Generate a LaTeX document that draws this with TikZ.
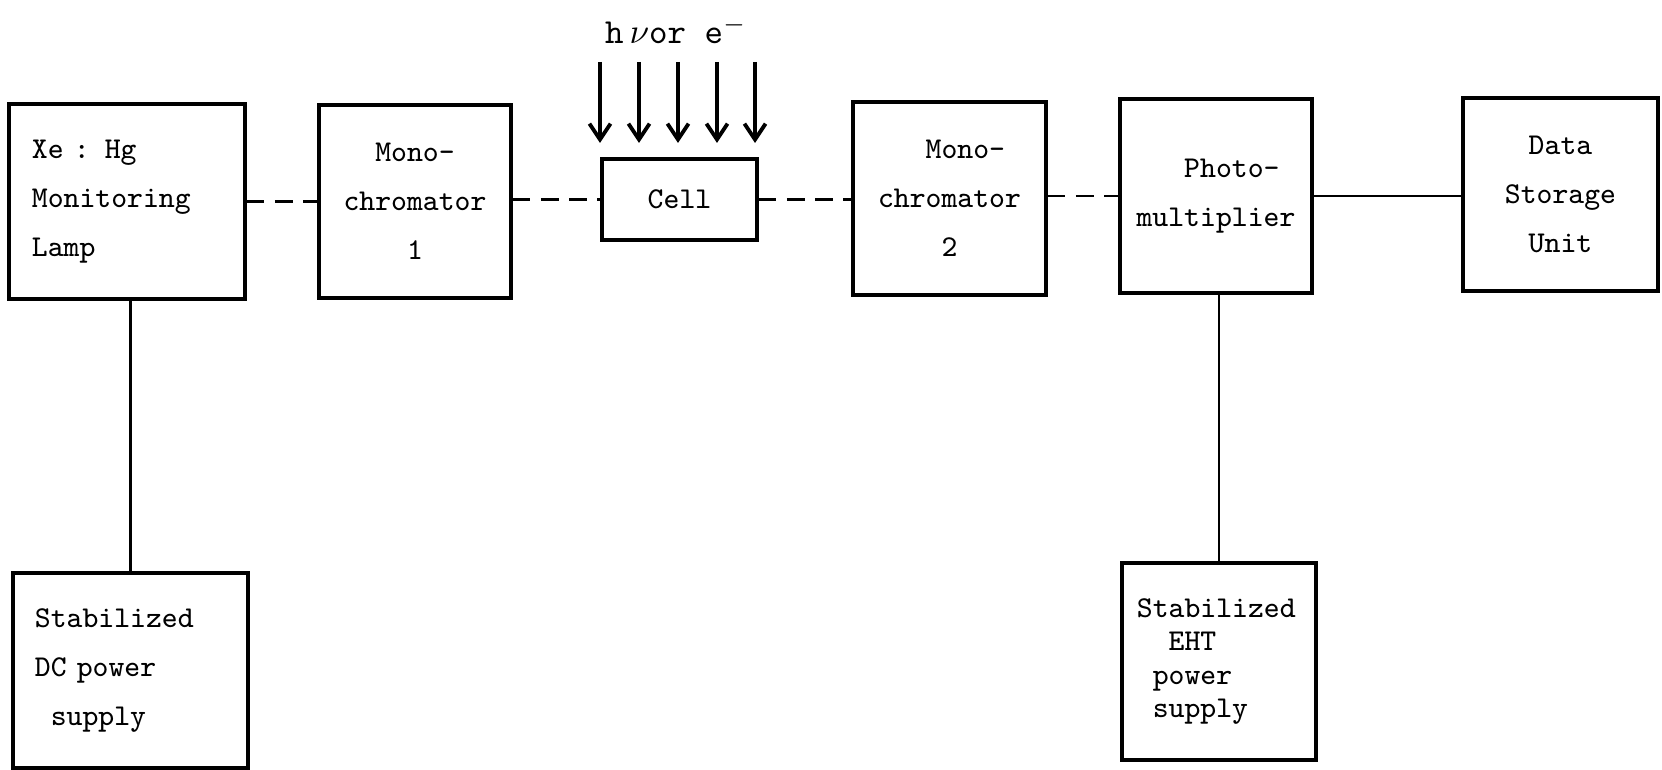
\documentclass[tikz,border=0pt]{standalone}
\usepackage{fontspec}
\usepackage{tikz}
\usetikzlibrary{positioning,arrows.meta}
\newcommand\boxfont{\fontsize{8.6}{13.9}\selectfont\ttfamily}

\begin{document}
\begin{tikzpicture}[x=0.01cm,y=-0.01cm,>={Straight Barb[length=4.5pt,width=6pt]},font=\boxfont,
  unit/.style={draw,line width=1pt,inner sep=0pt,align=center},
  link/.style={line width=0.8pt},
  dashlink/.style={line width=0.8pt,dash pattern=on 5pt off 3pt},
  beam/.style={->,line width=1.1pt}]
\useasboundingbox (0,0) rectangle (1662,770);
\node[unit,minimum width=2.36cm,minimum height=1.95cm,align=left,text width=1.9cm] (lamp) at (127,201.5) {Xe : Hg\\Monitoring\\Lamp};
\node[unit,minimum width=1.92cm,minimum height=1.93cm] (mono1) at (415,201.5) {Mono-\\chromator\\1};
\node[unit,minimum width=1.55cm,minimum height=0.81cm] (cell) at (679.5,199.5) {Cell};
\node[unit,minimum width=1.93cm,minimum height=1.93cm] (mono2) at (949.5,198.5) {\phantom{xx}Mono-\\chromator\\2};
\node[unit,minimum width=1.92cm,minimum height=1.94cm] (photo) at (1216,196) {\phantom{xx}Photo-\\multiplier};
\node[unit,minimum width=1.95cm,minimum height=1.93cm] (data) at (1560.5,194.5) {Data\\Storage\\Unit};
\node[unit,minimum width=2.35cm,minimum height=1.95cm,align=left,text width=1.91cm] (dcsup) at (130.5,670.5) {Stabilized\\DC power\\\phantom{x}supply};
\node[unit,minimum width=1.94cm,minimum height=1.97cm,align=left,text width=1.64cm,font=\fontsize{8.6}{9.5}\selectfont\ttfamily] (ehtsup) at (1219,661.5) {Stabilized\\\phantom{xx}EHT\\\phantom{x}power\\\phantom{x}supply};
\node[font=\fontsize{10}{12}\selectfont\ttfamily,inner sep=0pt] (beamlabel) at (676,30) {h\,$\nu$or e$^{-}$};
% incoming radiation
\foreach \bx in {600,639,678,717,755}
  \draw[beam] (\bx,62) -- (\bx,143);
% optical path
\draw[dashlink] (lamp) -- (mono1);
\draw[dashlink] (mono1.east |- cell.west) -- (cell.west);
\draw[dashlink] (cell.east) -- (cell.east -| mono2.west);
\draw[dashlink] (mono2.east |- photo.west) -- (photo.west);
\draw[link] (photo.east) -- (photo.east -| data.west);
% supplies
\draw[link] (lamp.south -| dcsup.north) -- (dcsup.north);
\draw[link] (ehtsup.north |- photo.south) -- (ehtsup.north);
\end{tikzpicture}
\end{document}
